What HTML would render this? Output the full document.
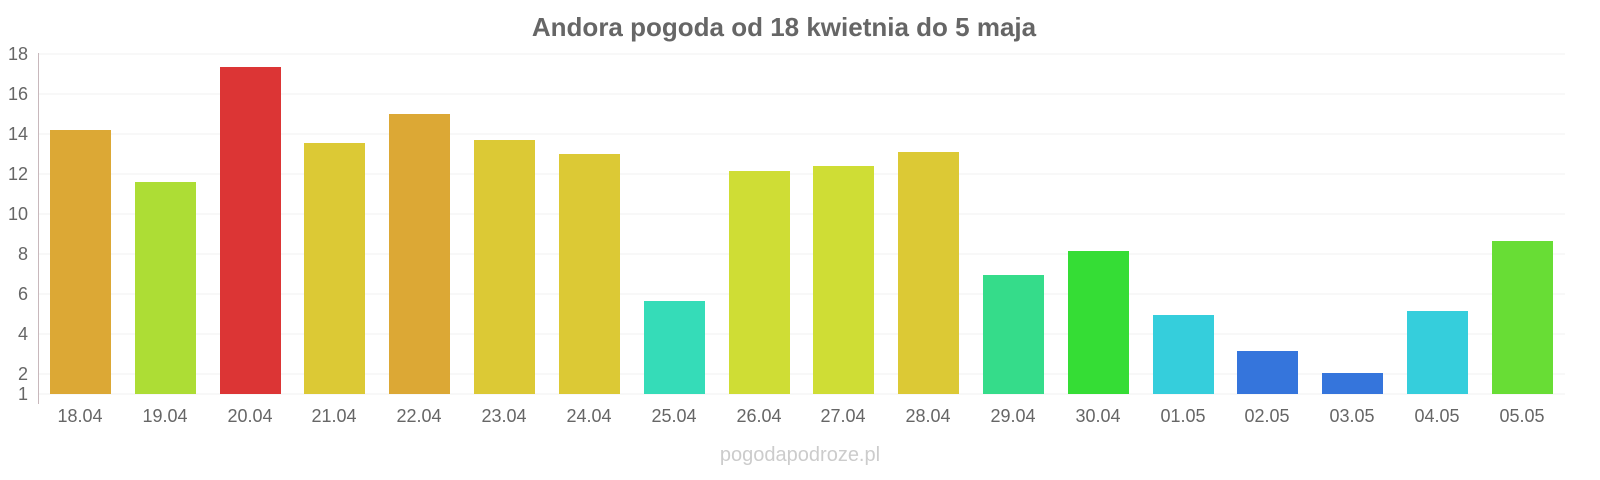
<!DOCTYPE html>
<html><head><meta charset="utf-8"><style>body{margin:0;background:#fff}svg{display:block}</style></head>
<body>
<svg width="1600" height="480" xmlns="http://www.w3.org/2000/svg" font-family="Liberation Sans, sans-serif">
<text x="784" y="36" text-anchor="middle" font-size="26" font-weight="bold" fill="#666">Andora pogoda od 18 kwietnia do 5 maja</text>
<g stroke="#f0f0f0" stroke-width="1">
<line x1="38" x2="1565" y1="54" y2="54"/><line x1="38" x2="1565" y1="94" y2="94"/><line x1="38" x2="1565" y1="134" y2="134"/><line x1="38" x2="1565" y1="174" y2="174"/><line x1="38" x2="1565" y1="214" y2="214"/><line x1="38" x2="1565" y1="254" y2="254"/><line x1="38" x2="1565" y1="294" y2="294"/><line x1="38" x2="1565" y1="334" y2="334"/><line x1="38" x2="1565" y1="374" y2="374"/><line x1="38" x2="1565" y1="394" y2="394"/>
</g>
<line x1="38.5" x2="38.5" y1="53" y2="404" stroke="#c8b8bc"/>
<g font-size="18" fill="#666" text-anchor="end">
<text x="28" y="60">18</text><text x="28" y="100">16</text><text x="28" y="140">14</text><text x="28" y="180">12</text><text x="28" y="220">10</text><text x="28" y="260">8</text><text x="28" y="300">6</text><text x="28" y="340">4</text><text x="28" y="380">2</text><text x="28" y="400">1</text>
</g>
<g>
<rect x="50" y="130" width="61" height="264" fill="#dca835"/>
<rect x="135" y="182" width="61" height="212" fill="#addd35"/>
<rect x="220" y="67" width="61" height="327" fill="#dc3535"/>
<rect x="304" y="143" width="61" height="251" fill="#dcc935"/>
<rect x="389" y="114" width="61" height="280" fill="#dca835"/>
<rect x="474" y="140" width="61" height="254" fill="#dcc935"/>
<rect x="559" y="154" width="61" height="240" fill="#dcc935"/>
<rect x="644" y="301" width="61" height="93" fill="#35dcb8"/>
<rect x="729" y="171" width="61" height="223" fill="#cfdd35"/>
<rect x="813" y="166" width="61" height="228" fill="#cfdd35"/>
<rect x="898" y="152" width="61" height="242" fill="#dcc935"/>
<rect x="983" y="275" width="61" height="119" fill="#35dc8a"/>
<rect x="1068" y="251" width="61" height="143" fill="#35dd35"/>
<rect x="1153" y="315" width="61" height="79" fill="#35cedc"/>
<rect x="1237" y="351" width="61" height="43" fill="#3575dc"/>
<rect x="1322" y="373" width="61" height="21" fill="#3575dc"/>
<rect x="1407" y="311" width="61" height="83" fill="#35cedc"/>
<rect x="1492" y="241" width="61" height="153" fill="#68dd35"/>
</g>
<g font-size="18" fill="#666" text-anchor="middle">
<text x="80" y="422">18.04</text><text x="165" y="422">19.04</text><text x="250" y="422">20.04</text><text x="334" y="422">21.04</text><text x="419" y="422">22.04</text><text x="504" y="422">23.04</text><text x="589" y="422">24.04</text><text x="674" y="422">25.04</text><text x="759" y="422">26.04</text><text x="843" y="422">27.04</text><text x="928" y="422">28.04</text><text x="1013" y="422">29.04</text><text x="1098" y="422">30.04</text><text x="1183" y="422">01.05</text><text x="1267" y="422">02.05</text><text x="1352" y="422">03.05</text><text x="1437" y="422">04.05</text><text x="1522" y="422">05.05</text>
</g>
<text x="800" y="461" text-anchor="middle" font-size="20" fill="#ccc">pogodapodroze.pl</text>
</svg>
</body></html>
